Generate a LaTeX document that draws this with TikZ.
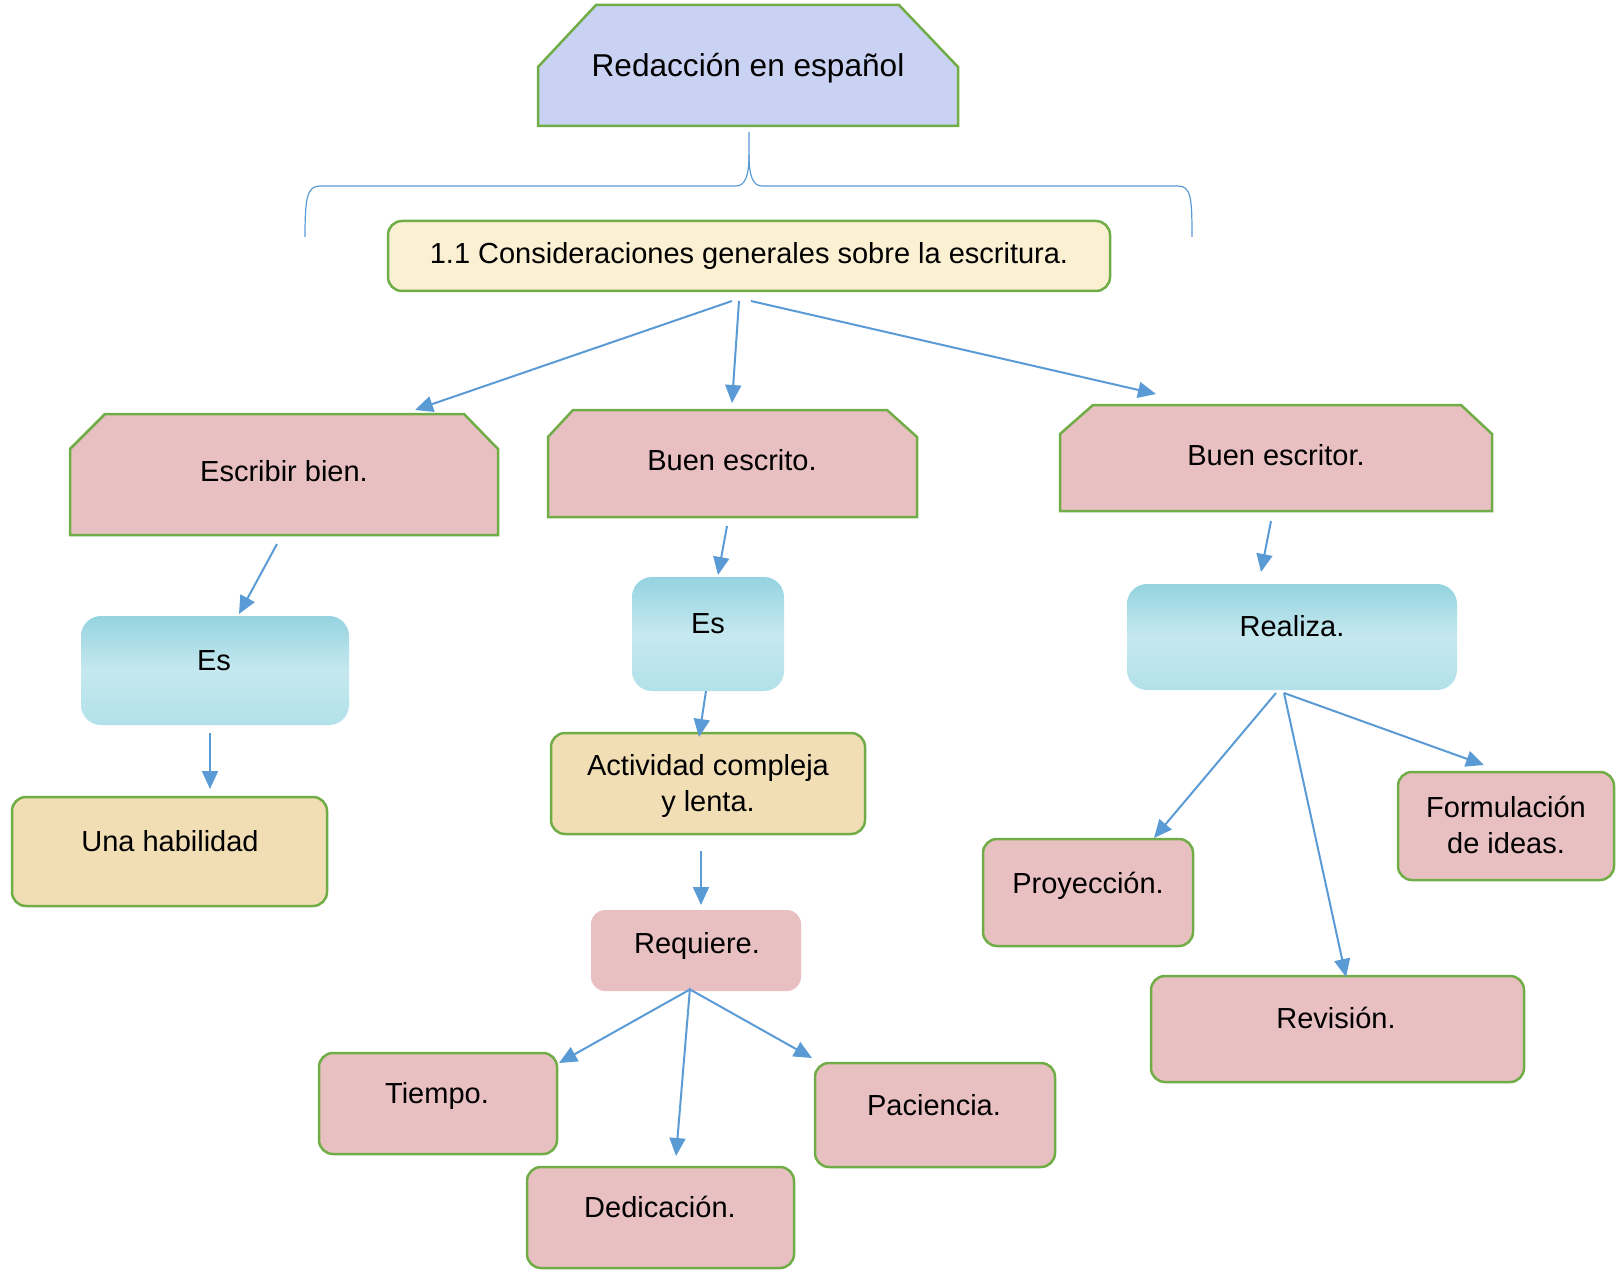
\documentclass[tikz,border=0pt]{standalone}
\usepackage{fontspec}
\setmainfont{Liberation Sans}
\usetikzlibrary{arrows.meta}
\definecolor{gborder}{HTML}{70AD47}
\definecolor{arrowblue}{HTML}{5B9BD5}
\definecolor{pinkfill}{HTML}{E9C0C2}
\definecolor{waterfill}{HTML}{B2E1EA}
\definecolor{waterdark}{HTML}{95D3E0}
\definecolor{tanfill}{HTML}{F1DEB5}
\definecolor{creamfill}{HTML}{FCF0D3}
\definecolor{titlefill}{HTML}{CAD2F3}
\begin{document}
\begin{tikzpicture}[x=0.5pt,y=-0.5pt,
  chamf/.style={draw=gborder, line width=1.25pt, line join=miter},
  rbox/.style={rectangle, rounded corners=7pt, inner sep=0pt},
  pinkbox/.style={rbox, fill=pinkfill, draw=gborder, line width=1.25pt},
  pinkplain/.style={rbox, fill=pinkfill},
  tanbox/.style={rbox, fill=tanfill, draw=gborder, line width=1.25pt},
  creambox/.style={rbox, fill=creamfill, draw=gborder, line width=1.25pt},
  waterbox/.style={rectangle, rounded corners=10pt, inner sep=0pt, top color=waterdark, bottom color=waterfill, middle color=waterfill!75!white},
  lbl/.style={inner sep=0pt, text height=10.4pt, text depth=0pt, font=\fontsize{14.5}{17}\selectfont},
  lbltwo/.style={inner sep=0pt, align=center, font=\fontsize{14.5}{18.3}\selectfont},
  conn/.style={draw=arrowblue, line width=1pt, -{Triangle[length=9pt,width=8pt]}},
  bracel/.style={draw=arrowblue, line width=0.6pt}
]
\useasboundingbox (0,0) rectangle (1617,1273);

% title
\draw[chamf, fill=titlefill] (538,126) -- (538,67) -- (596,5) -- (899,5) -- (958,67) -- (958,126) -- cycle;
\node[inner sep=0pt, text height=11.4pt, text depth=0pt, font=\fontsize{15.8}{19}\selectfont] (title) at (748,65) {Redacción en español};

% brace
\draw[bracel] (305,237) .. controls (305,198) and (307,186) .. (320,186) -- (736,186)
  .. controls (745,186) and (749,176) .. (749,155) -- (749,132);
\draw[bracel] (749,155) .. controls (749,176) and (753,186) .. (762,186) -- (1178,186)
  .. controls (1191,186) and (1192,198) .. (1192,237);

% consideraciones
\node[creambox, minimum width=361pt, minimum height=35pt] (cons) at (749,256) {};
\node[lbl] (consT) at (749,253) {1.1 Consideraciones generales sobre la escritura.};

% chamfered level
\draw[chamf, fill=pinkfill] (70,535) -- (70,449) -- (105,414) -- (464,414) -- (498,449) -- (498,535) -- cycle;
\node[lbl] (escribir) at (284,471) {Escribir bien.};
\draw[chamf, fill=pinkfill] (548,517) -- (548,437) -- (573,410) -- (887,410) -- (917,437) -- (917,517) -- cycle;
\node[lbl] (escrito) at (732,460) {Buen escrito.};
\draw[chamf, fill=pinkfill] (1060,511) -- (1060,434) -- (1093,405) -- (1461,405) -- (1492,434) -- (1492,511) -- cycle;
\node[lbl] (escritor) at (1276,455) {Buen escritor.};

% left column
\node[waterbox, minimum width=134pt, minimum height=54.5pt] (esL) at (215,670.5) {};
\node[lbl] (esLT) at (214,660) {Es};
\node[tanbox, minimum width=157.5pt, minimum height=54.5pt] (una) at (169.5,851.5) {};
\node[lbl] (unaT) at (170,841) {Una habilidad};

% middle column
\node[waterbox, minimum width=76pt, minimum height=57pt] (esM) at (708,634) {};
\node[lbl] (esMT) at (708,623) {Es};
\node[tanbox, minimum width=157pt, minimum height=50.5pt] (act) at (708,783.5) {};
\node[lbltwo] (actT) at (708,786) {Actividad compleja\\y lenta.};
\node[pinkplain, minimum width=105pt, minimum height=40.5pt] (req) at (696,950.5) {};
\node[lbl] (reqT) at (697,943) {Requiere.};
\node[pinkbox, minimum width=119pt, minimum height=50.5pt] (tiempo) at (438,1103.5) {};
\node[lbl] (tiempoT) at (437,1093) {Tiempo.};
\node[pinkbox, minimum width=133.5pt, minimum height=50.5pt] (dedic) at (660.5,1217.5) {};
\node[lbl] (dedicT) at (660,1207) {Dedicación.};
\node[pinkbox, minimum width=120pt, minimum height=52pt] (pac) at (935,1115) {};
\node[lbl] (pacT) at (934,1105) {Paciencia.};

% right column
\node[waterbox, minimum width=165pt, minimum height=53pt] (realiza) at (1292,637) {};
\node[lbl] (realizaT) at (1292,626) {Realiza.};
\node[pinkbox, minimum width=105pt, minimum height=53.5pt] (proy) at (1088,892.5) {};
\node[lbl] (proyT) at (1088,883) {Proyección.};
\node[pinkbox, minimum width=186.5pt, minimum height=53pt] (rev) at (1337.5,1029) {};
\node[lbl] (revT) at (1336,1018) {Revisión.};
\node[pinkbox, minimum width=108pt, minimum height=54pt] (form) at (1506,826) {};
\node[lbltwo] (formT) at (1506,825) {Formulación\\de ideas.};

% connector end points
\coordinate (c1s) at (732,301); \coordinate (c1e) at (415,410);
\coordinate (c2s) at (739,301); \coordinate (c2e) at (732,403);
\coordinate (c3s) at (751,301); \coordinate (c3e) at (1156,394);
\coordinate (c4s) at (277,544); \coordinate (c4e) at (239,614);
\coordinate (c5s) at (210,733); \coordinate (c5e) at (210,789);
\coordinate (c6s) at (727,526); \coordinate (c6e) at (718,575);
\coordinate (c7s) at (706,691); \coordinate (c7e) at (699,737);
\coordinate (c8s) at (701,851); \coordinate (c8e) at (701,905);
\coordinate (c9s) at (689,990); \coordinate (c9e) at (559,1063);
\coordinate (c10s) at (690,988); \coordinate (c10e) at (676,1156);
\coordinate (c11s) at (691,990); \coordinate (c11e) at (812,1058);
\coordinate (c12s) at (1271,521); \coordinate (c12e) at (1261,572);
\coordinate (c13s) at (1276,693); \coordinate (c13e) at (1154,838);
\coordinate (c14s) at (1284,693); \coordinate (c14e) at (1346,977);
\coordinate (c15s) at (1284,693); \coordinate (c15e) at (1484,765);

\foreach \i in {1,...,15} {\draw[conn] (c\i s) -- (c\i e);}
\end{tikzpicture}
\end{document}
